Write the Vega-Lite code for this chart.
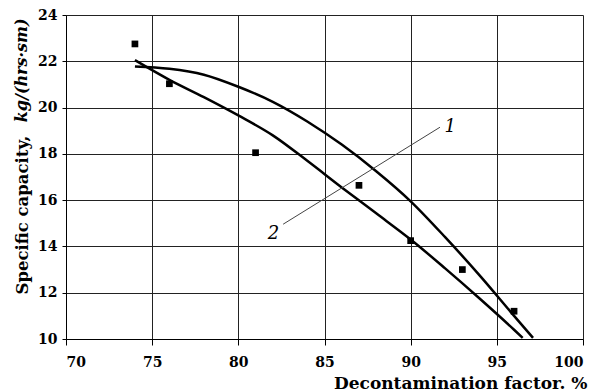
{
  "$schema": "https://vega.github.io/schema/vega-lite/v6.json",
  "width": 517,
  "height": 324,
  "autosize": "none",
  "padding": {"left": 66, "top": 15, "right": 17, "bottom": 52},
  "background": "white",
  "config": {
    "view": {"stroke": null},
    "font": "DejaVu Serif",
    "axis": {
      "labelFont": "DejaVu Serif",
      "labelFontWeight": "bold",
      "labelFontSize": 14,
      "labelColor": "black",
      "titleFont": "DejaVu Serif",
      "titleFontWeight": "bold",
      "titleColor": "black",
      "domainColor": "black",
      "tickColor": "black",
      "gridColor": "#222",
      "gridOpacity": 1,
      "gridWidth": 1
    }
  },
  "datasets": {
    "curves": [
      {"curve": "1", "x": 74, "y": 21.78},
      {"curve": "1", "x": 76, "y": 21.68},
      {"curve": "1", "x": 78, "y": 21.42},
      {"curve": "1", "x": 80, "y": 20.9},
      {"curve": "1", "x": 82, "y": 20.25},
      {"curve": "1", "x": 84, "y": 19.4},
      {"curve": "1", "x": 86, "y": 18.4},
      {"curve": "1", "x": 88, "y": 17.25},
      {"curve": "1", "x": 90, "y": 15.95},
      {"curve": "1", "x": 92, "y": 14.4},
      {"curve": "1", "x": 94, "y": 12.75},
      {"curve": "1", "x": 96, "y": 11.0},
      {"curve": "1", "x": 97.1, "y": 10.05},
      {"curve": "2", "x": 74, "y": 22.05},
      {"curve": "2", "x": 76, "y": 21.2},
      {"curve": "2", "x": 78, "y": 20.45},
      {"curve": "2", "x": 80, "y": 19.66},
      {"curve": "2", "x": 82, "y": 18.8},
      {"curve": "2", "x": 84, "y": 17.7},
      {"curve": "2", "x": 86, "y": 16.55},
      {"curve": "2", "x": 88, "y": 15.43},
      {"curve": "2", "x": 90, "y": 14.3},
      {"curve": "2", "x": 92, "y": 13.05},
      {"curve": "2", "x": 94, "y": 11.75},
      {"curve": "2", "x": 96, "y": 10.4},
      {"curve": "2", "x": 96.5, "y": 10.05}
    ],
    "points": [
      {"x": 74, "y": 22.75},
      {"x": 76, "y": 21.03},
      {"x": 81, "y": 18.05},
      {"x": 87, "y": 16.64},
      {"x": 90, "y": 14.25},
      {"x": 93, "y": 13.0},
      {"x": 96, "y": 11.2}
    ],
    "leader": [
      {"x": 82.6, "y": 14.96, "x2": 91.7, "y2": 19.15}
    ],
    "labels": [
      {"x": 92.29, "y": 19.14, "t": "1"},
      {"x": 82.04, "y": 14.54, "t": "2"}
    ],
    "unit": [
      {"x": 67.45, "y": 21.61, "t": "kg/(hrs·sm)"}
    ]
  },
  "layer": [
    {
      "data": {"name": "curves"},
      "mark": {"type": "line", "color": "black", "strokeWidth": 2.5, "interpolate": "monotone"},
      "encoding": {
        "x": {
          "field": "x", "type": "quantitative",
          "scale": {"domain": [70, 100], "nice": false},
          "axis": {
            "values": [70, 75, 80, 85, 90, 95, 100],
            "grid": true,
            "tickSize": 6,
            "labelPadding": 10,
            "title": "Decontamination factor. %",
            "titleFontSize": 17,
            "titleAlign": "right",
            "titleX": 521,
            "titleY": 44,
            "titleBaseline": "middle",
            "titleAnchor": null
          }
        },
        "y": {
          "field": "y", "type": "quantitative",
          "scale": {"domain": [10, 24], "nice": false},
          "axis": {
            "values": [10, 12, 14, 16, 18, 20, 22, 24],
            "grid": true,
            "tickSize": 4,
            "labelPadding": 5,
            "title": "Specific capacity,",
            "titleFontSize": 16.5,
            "titleAngle": 270,
            "titleAlign": "left",
            "titleBaseline": "middle",
            "titleX": -44,
            "titleY": 279,
            "titleAnchor": null
          }
        },
        "detail": {"field": "curve"}
      }
    },
    {
      "data": {"name": "points"},
      "mark": {"type": "point", "shape": "square", "filled": true, "color": "black", "size": 45, "opacity": 1},
      "encoding": {
        "x": {"field": "x", "type": "quantitative"},
        "y": {"field": "y", "type": "quantitative"}
      }
    },
    {
      "data": {"name": "leader"},
      "mark": {"type": "rule", "color": "#444", "strokeWidth": 1},
      "encoding": {
        "x": {"field": "x", "type": "quantitative"},
        "y": {"field": "y", "type": "quantitative"},
        "x2": {"field": "x2"},
        "y2": {"field": "y2"}
      }
    },
    {
      "data": {"name": "labels"},
      "mark": {"type": "text", "font": "DejaVu Serif", "fontStyle": "italic", "fontSize": 18, "color": "black", "align": "center", "baseline": "middle"},
      "encoding": {
        "x": {"field": "x", "type": "quantitative"},
        "y": {"field": "y", "type": "quantitative"},
        "text": {"field": "t"}
      }
    },
    {
      "data": {"name": "unit"},
      "mark": {"type": "text", "font": "DejaVu Serif", "fontStyle": "italic", "fontWeight": "bold", "fontSize": 16, "color": "black", "align": "center", "baseline": "middle", "angle": 270},
      "encoding": {
        "x": {"field": "x", "type": "quantitative"},
        "y": {"field": "y", "type": "quantitative"},
        "text": {"field": "t"}
      }
    }
  ]
}
